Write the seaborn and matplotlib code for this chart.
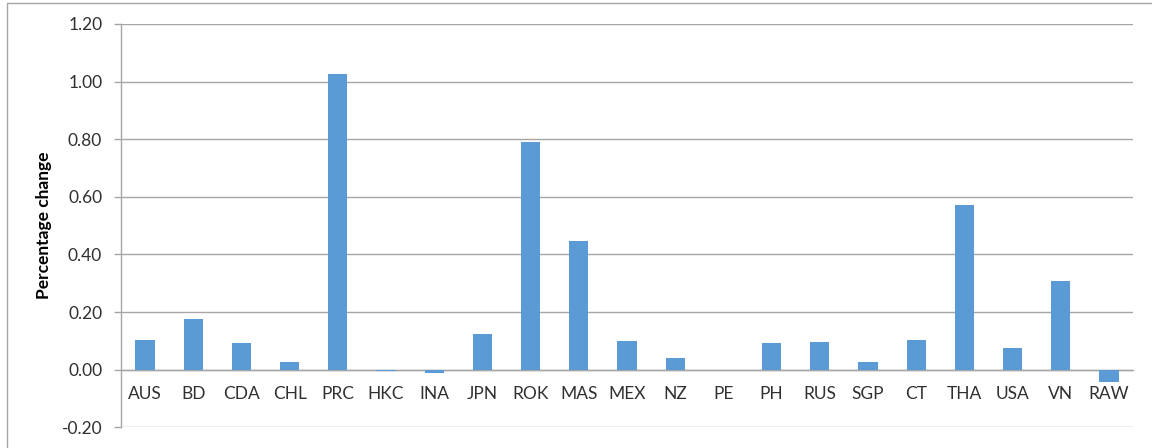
import matplotlib
matplotlib.use("Agg")
import matplotlib.pyplot as plt
import seaborn as sns
import pandas as pd
from matplotlib.lines import Line2D

categories = ["AUS", "BD", "CDA", "CHL", "PRC", "HKC", "INA", "JPN", "ROK", "MAS", "MEX",
              "NZ", "PE", "PH", "RUS", "SGP", "CT", "THA", "USA", "VN", "RAW"]
values = [0.103, 0.176, 0.093, 0.027, 1.027, -0.006, -0.012, 0.123, 0.789, 0.445, 0.100,
          0.041, 0.0, 0.093, 0.097, 0.027, 0.103, 0.572, 0.077, 0.308, -0.042]
y_ticks = [-0.20, 0.00, 0.20, 0.40, 0.60, 0.80, 1.00, 1.20]
y_label = "Percentage change"

sns.set_theme(style="white")
plt.rcParams['font.family'] = ['Lato', 'DejaVu Sans']

df = pd.DataFrame({"country": categories, "value": values})

fig = plt.figure(figsize=(11.52, 4.48), dpi=100)
ax = fig.add_axes([121/1152, 1 - 427.3/448, (1133-121)/1152, (427.3-24)/448])

sns.barplot(data=df, x="country", y="value", color="#5B9BD5", width=0.4,
            saturation=1, ax=ax, zorder=3, linewidth=0)

grid_c = "#A6A6A6"
text_c = "#303030"
ax.set_ylim(-0.2, 1.2)
ax.set_xlim(-0.5, len(categories) - 0.5)
ax.set_yticks(y_ticks)
ax.set_yticklabels([f"{t:.2f}" for t in y_ticks])
ax.yaxis.grid(True, color=grid_c, linewidth=1.0, zorder=0)
ax.set_axisbelow(True)

for s in ["top", "right"]:
    ax.spines[s].set_visible(False)
ax.spines["left"].set_color(grid_c)
ax.spines["left"].set_linewidth(1.0)
ax.spines["bottom"].set_position(("data", 0))
ax.spines["bottom"].set_color(grid_c)
ax.spines["bottom"].set_linewidth(1.0)
ax.spines["bottom"].set_zorder(2)

ax.tick_params(axis="y", which="both", left=True, length=5, width=1.0, color=grid_c,
               pad=8.5, labelsize=12.5, labelcolor=text_c)
ax.tick_params(axis="x", which="both", bottom=False, length=0, pad=12,
               labelsize=12.5, labelcolor=text_c)

ax.set_xlabel("")
ax.set_ylabel(y_label, fontsize=12.5, fontweight="bold", color="black")
ax.yaxis.set_label_coords(-(121-52)/1012, 0.5)

# outer chart border (top and left edges visible)
fig.add_artist(Line2D([7/1152, 1.0], [1 - 3/448, 1 - 3/448], transform=fig.transFigure,
                      color="#A6A6A6", linewidth=1.0))
fig.add_artist(Line2D([7/1152, 7/1152], [0.0, 1 - 3/448], transform=fig.transFigure,
                      color="#A6A6A6", linewidth=1.0))

fig.savefig("out.png", dpi=100)
